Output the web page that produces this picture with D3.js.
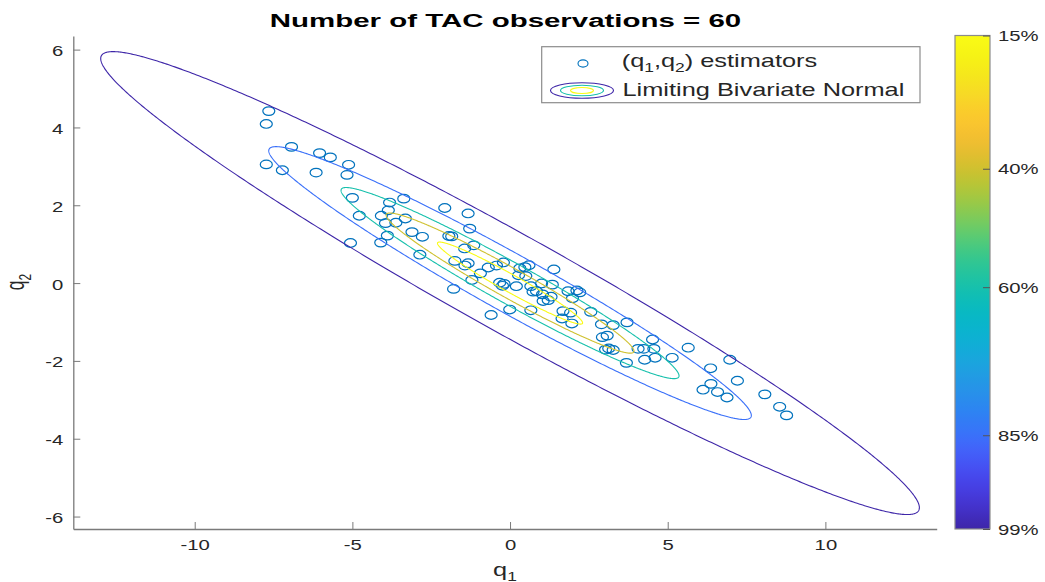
<!DOCTYPE html>
<html>
<head>
	<meta charset="utf-8">
	<title>Number of TAC observations = 60</title>
	<script src="https://d3js.org/d3.v7.min.js"></script>
	<style>
		body { margin: 0; background: #fff; }
		text { font-family: "Liberation Sans", Arial, Helvetica, sans-serif; fill: #262626; }
	</style>
</head>
<body>
	<div class="chart"></div>

	<script type="text/javascript">
		// (q1,q2) estimators
		const q1 = [-7.65, -7.73, -6.93, -6.04, -5.70, -7.73, -7.22, -6.15, -5.12, -5.17,
			-5.00, -4.78, -5.06, -3.82, -3.37, -3.86, -4.08, -3.95, -3.62, -3.32,
			-3.11, -2.78, -3.89, -4.10, -2.86, -2.07, -1.33, -1.28, -1.94, -1.85,
			-1.44, -1.15, -1.75, -1.43, -1.33, -0.94, -0.69, -0.43, -0.21, -1.21,
			-0.33, -0.24, -0.19, 0.20, -1.79, -0.60, -0.01, 0.31, 0.47, 0.60,
			0.27, 0.50, 0.66, 0.73, 0.84, 1.00, 1.03, 1.05, 1.21, 1.30,
			1.39, 0.66, 1.34, 1.84, 2.12, 2.21, 1.98, 1.68, 1.92, 1.65,
			1.96, 2.56, 2.90, 3.27, 3.71, 2.93, 3.08, 3.13, 3.27, 3.03,
			3.69, 4.06, 4.24, 4.52, 4.56, 4.27, 4.60, 5.14, 5.65, 6.36,
			6.97, 7.21, 6.37, 6.12, 6.58, 6.88, 8.08, 8.55, 8.77]
		const q2 = [4.42, 4.09, 3.50, 3.34, 3.23, 3.05, 2.90, 2.84, 3.04, 2.78,
			2.19, 1.73, 1.03, 2.07, 2.17, 1.87, 1.73, 1.54, 1.55, 1.66,
			1.31, 1.19, 1.22, 1.04, 0.73, 1.93, 1.79, 1.40, 1.21, 1.20,
			0.89, 0.97, 0.57, 0.45, 0.51, 0.25, 0.40, 0.45, 0.53, 0.08,
			0.01, -0.07, -0.02, -0.08, -0.15, -0.82, -0.68, 0.38, 0.41, 0.46,
			0.20, 0.18, -0.08, -0.22, -0.21, -0.01, -0.29, -0.46, -0.44, -0.35,
			0.35, -0.70, -0.04, -0.21, -0.19, -0.24, -0.39, -0.72, -0.76, -0.91,
			-1.04, -0.74, -1.06, -1.08, -1.01, -1.39, -1.35, -1.68, -1.72, -1.71,
			-2.05, -1.69, -1.69, -1.45, -1.69, -1.97, -1.92, -1.92, -1.66, -2.19,
			-1.97, -2.51, -2.59, -2.74, -2.80, -2.94, -2.86, -3.18, -3.40]

		// limiting bivariate normal (mean 0)
		const sd1 = 4.277
		const sd2 = 1.96
		const rho = -0.97

		// contour levels: label, mahalanobis radius, place on the colour bar
		const levelLabels = ['99%', '85%', '60%', '40%', '15%']
		const levelRadius = [3.035, 1.789, 1.253, 0.919, 0.538]
		const levelValue = [0, 0.19, 0.49, 0.73, 1]

		const xTicks = [-10, -5, 0, 5, 10]
		const yTicks = [-6, -4, -2, 0, 2, 4, 6]

		// parula
		const parula = ['#3e26a8', '#4535d6', '#4748f0', '#4367fd', '#2f7ef6', '#2891e9',
			'#1ca3df', '#0cb3d3', '#05b9c1', '#1ac2a8', '#37c88b', '#6ccc66', '#9fc943',
			'#cbc22b', '#efba33', '#fec72e', '#f5dc25', '#f5f014', '#f9fb15']
		const color = d3.interpolateRgbBasis(parula)

		const width = 1045
		const height = 582
		const plot = { left: 73.3, right: 936.7, top: 36, bottom: 529 }
		const sx = 1.45   // the picture is stretched sideways

		const svg = d3.select('.chart').append('svg')
			.attr('width', width)
			.attr('height', height)

		const x = d3.scaleLinear().domain([-13.85, 13.53]).range([plot.left, plot.right])
		const y = d3.scaleLinear().domain([-6.32, 6.35]).range([plot.bottom, plot.top])

		// title
		svg.append('text')
			.attr('transform', `translate(505.5,27.3) scale(1.55,1)`)
			.attr('text-anchor', 'middle')
			.attr('font-size', 19)
			.attr('font-weight', 'bold')
			.style('fill', '#000')
			.text('Number of TAC observations = 60')

		// axes
		const axisColor = '#7a7a7a'
		const plain = d => String(d)   // hyphen minus, like the original

		const gx = svg.append('g')
			.attr('transform', `translate(0,${plot.bottom})`)
			.attr('color', axisColor)
			.call(d3.axisBottom(x).tickValues(xTicks).tickFormat(plain).tickSize(-7).tickSizeOuter(0))
		gx.select('.domain').attr('stroke-width', 1.3)
		gx.selectAll('.tick text')
			.attr('y', null).attr('dy', null)
			.attr('font-size', 14)
			.attr('font-family', '"Liberation Sans", Arial, sans-serif')
			.attr('transform', `translate(0,20.5) scale(${sx},1)`)
			.style('fill', '#262626')

		const gy = svg.append('g')
			.attr('transform', `translate(${plot.left},0)`)
			.attr('color', axisColor)
			.call(d3.axisLeft(y).tickValues(yTicks).tickFormat(plain).tickSize(-7).tickSizeOuter(0))
		gy.select('.domain').attr('stroke-width', 1.3)
		gy.selectAll('.tick text')
			.attr('x', null).attr('dy', null)
			.attr('font-size', 14)
			.attr('font-family', '"Liberation Sans", Arial, sans-serif')
			.attr('transform', `translate(-10,6) scale(${sx},1)`)
			.style('fill', '#262626')

		// axis labels
		const xl = svg.append('text')
			.attr('transform', `translate(505,576) scale(${sx},1)`)
			.attr('text-anchor', 'middle')
			.attr('font-size', 17.5)
		xl.append('tspan').text('q')
		xl.append('tspan').attr('font-size', 12).attr('dy', 5).text('1')

		const yl = svg.append('text')
			.attr('transform', `translate(24,282) scale(${sx},1) rotate(-90)`)
			.attr('text-anchor', 'middle')
			.attr('font-size', 17.5)
		yl.append('tspan').text('q')
		yl.append('tspan').attr('font-size', 12).attr('dy', 5).text('2')

		// estimators
		svg.append('g')
			.selectAll('ellipse')
			.data(d3.range(q1.length))
			.join('ellipse')
			.attr('cx', i => x(q1[i]))
			.attr('cy', i => y(q2[i]))
			.attr('rx', 6)
			.attr('ry', 4.3)
			.attr('fill', 'none')
			.attr('stroke', '#0072bd')
			.attr('stroke-width', 1.2)

		// contours of the limiting normal
		const angles = d3.range(0, 720).map(a => a * Math.PI / 360)
		const ring = k => angles.map(t => [
			k * sd1 * Math.cos(t),
			k * sd2 * (rho * Math.cos(t) + Math.sqrt(1 - rho * rho) * Math.sin(t))
		])
		const line = d3.line()
			.x(d => x(d[0]))
			.y(d => y(d[1]))
			.curve(d3.curveLinearClosed)

		svg.append('g')
			.selectAll('path')
			.data(levelRadius)
			.join('path')
			.attr('d', k => line(ring(k)))
			.attr('fill', 'none')
			.attr('stroke', (k, i) => color(levelValue[i]))
			.attr('stroke-width', 1.1)

		// legend
		const lg = svg.append('g')
		lg.append('rect')
			.attr('x', 541.7).attr('y', 46.7)
			.attr('width', 378.3).attr('height', 56)
			.attr('fill', '#fff')
			.attr('stroke', '#8c8c8c')
			.attr('stroke-width', 1.2)
		lg.append('ellipse')
			.attr('cx', 583).attr('cy', 63.5)
			.attr('rx', 5).attr('ry', 3.6)
			.attr('fill', 'none')
			.attr('stroke', '#0072bd')
			.attr('stroke-width', 1.1)
		const t1 = lg.append('text')
			.attr('transform', `translate(621.7,67) scale(${sx},1)`)
			.attr('font-size', 17.5)
		t1.append('tspan').text('(q')
		t1.append('tspan').attr('font-size', 12).attr('dy', 5).text('1')
		t1.append('tspan').attr('dy', -5).text(',q')
		t1.append('tspan').attr('font-size', 12).attr('dy', 5).text('2')
		t1.append('tspan').attr('dy', -5).text(') estimators')

		const icon = [[31.5, 7.8, 0], [21.5, 5.2, 0.49], [11.5, 3, 1]]
		lg.selectAll('.icon')
			.data(icon)
			.join('ellipse')
			.attr('class', 'icon')
			.attr('cx', 582).attr('cy', 90.5)
			.attr('rx', d => d[0]).attr('ry', d => d[1])
			.attr('fill', 'none')
			.attr('stroke', d => color(d[2]))
			.attr('stroke-width', 1.1)
		lg.append('text')
			.attr('transform', `translate(622.5,95.5) scale(${sx},1)`)
			.attr('font-size', 17.5)
			.text('Limiting Bivariate Normal')

		// colour bar
		const cb = { x: 955, w: 35, top: 35.5, bottom: 529 }
		const cbScale = d3.scaleLinear().domain([0, 1]).range([cb.bottom, cb.top])

		const grad = svg.append('defs').append('linearGradient')
			.attr('id', 'parula')
			.attr('x1', 0).attr('y1', 1).attr('x2', 0).attr('y2', 0)
		grad.selectAll('stop')
			.data(d3.range(0, 1.0001, 0.02))
			.join('stop')
			.attr('offset', d => d)
			.attr('stop-color', d => color(d))

		svg.append('rect')
			.attr('x', cb.x).attr('y', cb.top)
			.attr('width', cb.w).attr('height', cb.bottom - cb.top)
			.attr('fill', 'url(#parula)')
			.attr('stroke', '#8c8c8c')
			.attr('stroke-width', 1.2)

		const gc = svg.append('g')
			.attr('transform', `translate(${cb.x + cb.w},0)`)
			.attr('color', '#555')
			.call(d3.axisRight(cbScale).tickValues(levelValue)
				.tickFormat((d, i) => levelLabels[i]).tickSize(-7).tickSizeOuter(0))
		gc.select('.domain').remove()
		gc.selectAll('.tick text')
			.attr('x', null).attr('dy', null)
			.attr('font-size', 14)
			.attr('font-family', '"Liberation Sans", Arial, sans-serif')
			.attr('transform', `translate(8,5) scale(${sx},1)`)
			.style('fill', '#262626')
	</script>
</body>
</html>
